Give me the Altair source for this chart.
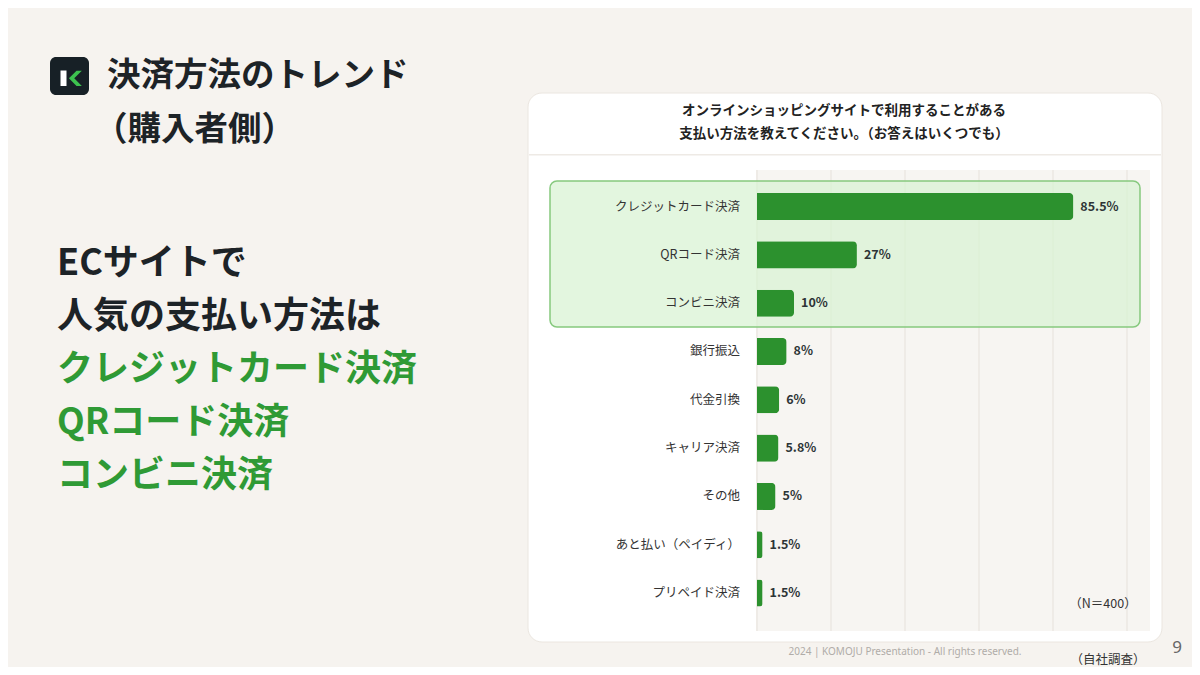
import altair as alt
import pandas as pd

# ---- data ----
categories = ["クレジットカード決済", "QRコード決済", "コンビニ決済", "銀行振込", "代金引換",
              "キャリア決済", "その他", "あと払い（ペイディ）", "プリペイド決済"]
values = [85.5, 27, 10, 8, 6, 5.8, 5, 1.5, 1.5]
value_labels = ["85.5%", "27%", "10%", "8%", "6%", "5.8%", "5%", "1.5%", "1.5%"]
grid_ticks = [0, 20, 40, 60, 80, 100]

card_title = ["オンラインショッピングサイトで利用することがある",
              "支払い方法を教えてください。（お答えはいくつでも）"]
slide_title = ["決済方法のトレンド", "（購入者側）"]
headline_dark = ["ECサイトで", "人気の支払い方法は"]
headline_green = ["クレジットカード決済", "QRコード決済", "コンビニ決済"]

df = pd.DataFrame({"cat": categories, "val": values, "lab": value_labels})
grid_df = pd.DataFrame({"g": grid_ticks})
one = pd.DataFrame({"a": [0]})

JP = "Noto Sans CJK JP"
GREEN = "#2c912e"
DARK = "#1d2327"

xs = alt.Scale(domain=[0, 100], range=[749, 1119])
ys = alt.Scale(domain=categories, range=[174.4, 609.2], paddingInner=0.44, paddingOuter=0.22)


def box(x, x2, y, y2, **kw):
    return alt.Chart(one).mark_rect(**kw).encode(
        x=alt.value(x), x2=alt.value(x2), y=alt.value(y), y2=alt.value(y2))


def label(text, x, y, **kw):
    return alt.Chart(one).mark_text(text=text, font=JP, baseline="middle", **kw).encode(
        x=alt.value(x), y=alt.value(y))


layers = []

# card
layers.append(box(520, 1154, 85, 634, fill="#ffffff", cornerRadius=14,
                  stroke="#ebe6e0", strokeWidth=1))
# title separator
layers.append(box(521, 1153, 146, 147.5, fill="#eeeae5"))
# plot background
layers.append(box(748, 1142, 162, 623, fill="#f7f5f2"))
# gridlines
layers.append(alt.Chart(grid_df).mark_rule(color="#e6e1db", strokeWidth=1).encode(
    x=alt.X("g:Q", scale=xs, axis=None), y=alt.value(162), y2=alt.value(623)))
# highlight box
layers.append(box(542, 1132, 173, 319, fill="#d8f3d2", fillOpacity=0.72,
                  stroke="#86c97e", strokeWidth=1.5, cornerRadius=7))
# bars
layers.append(alt.Chart(df).mark_bar(color=GREEN, cornerRadiusEnd=4).encode(
    x=alt.X("val:Q", scale=xs, axis=None),
    y=alt.Y("cat:N", scale=ys, axis=None, sort=categories)))
# value labels
layers.append(alt.Chart(df).mark_text(font=JP, fontWeight="bold", fontSize=12.5, color="#2d3436",
                                      align="left", baseline="middle", dx=7).encode(
    x=alt.X("val:Q", scale=xs), y=alt.Y("cat:N", scale=ys, sort=categories), text="lab:N"))
# category labels
layers.append(alt.Chart(df).mark_text(font=JP, fontSize=12.5, color="#333333",
                                      align="right", baseline="middle").encode(
    x=alt.value(732), y=alt.Y("cat:N", scale=ys, sort=categories), text="cat:N"))

# card title
layers.append(label(card_title[0], 836, 103, fontSize=13.5, fontWeight="bold", color="#222", align="center"))
layers.append(label(card_title[1], 836, 126, fontSize=13.5, fontWeight="bold", color="#222", align="center"))
# N
layers.append(label("（N＝400）", 1095, 596, fontSize=12.5, color="#333", align="center"))
# footer
layers.append(alt.Chart(one).mark_text(text="2024 | KOMOJU Presentation - All rights reserved.",
                                       font="Noto Sans", fontSize=10, color="#b0aca8",
                                       align="center", baseline="middle").encode(
    x=alt.value(897), y=alt.value(644)))
layers.append(label("（自社調査）", 1100, 652, fontSize=12.5, color="#333", align="center"))
layers.append(alt.Chart(one).mark_text(text="9", font="Noto Sans", fontSize=17, color="#666",
                                       align="center", baseline="middle").encode(
    x=alt.value(1169), y=alt.value(640)))

# logo
layers.append(box(42, 81, 49, 87, fill="#172026", cornerRadius=6))
layers.append(box(52.5, 58.5, 62.5, 78, fill="#ffffff"))
layers.append(alt.Chart(one).mark_point(
    shape="M0.9,-1 L0.2,-1 L-0.8,0 L0.2,1 L0.9,1 L-0.1,0 Z",
    filled=True, fill="#3dc24f", opacity=1, size=230, strokeWidth=0).encode(
    x=alt.value(67), y=alt.value(70.3)))

# slide title
layers.append(label(slide_title[0], 99, 68, fontSize=33.5, fontWeight="bold", color=DARK, align="left"))
layers.append(label(slide_title[1], 86, 122, fontSize=33.5, fontWeight="bold", color=DARK, align="left"))

# headline
ys_lines = [256, 309, 362, 415, 468]
for i, t in enumerate(headline_dark):
    layers.append(label(t, 49, ys_lines[i], fontSize=36, fontWeight="bold", color=DARK, align="left"))
for i, t in enumerate(headline_green):
    layers.append(label(t, 49, ys_lines[i + 2], fontSize=36, fontWeight="bold", color="#2f9a35", align="left"))

chart = alt.layer(*layers).properties(
    width=1184, height=659, padding=0,
    autosize=alt.AutoSizeParams(type="none"),
    background="#f6f3ef",
).configure_view(stroke=None)

chart.save("out.html", embed_options={"renderer": "svg", "actions": False})
